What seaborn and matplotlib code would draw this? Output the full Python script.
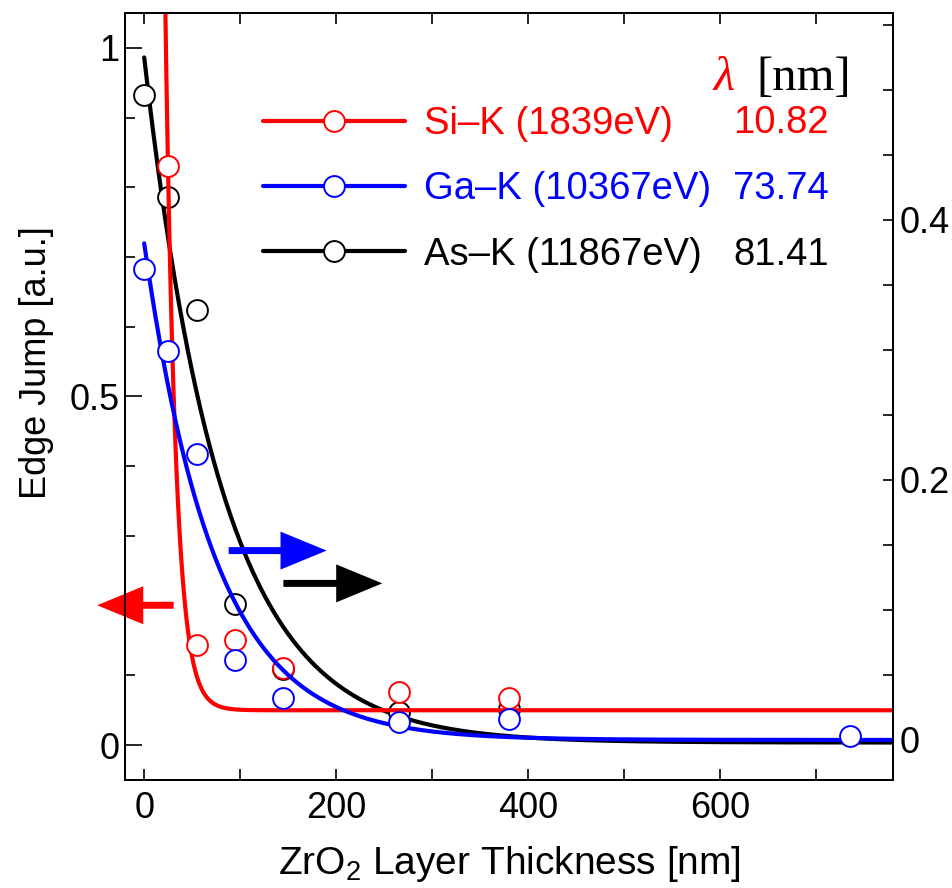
import numpy as np
import pandas as pd
import matplotlib
matplotlib.use("Agg")
import matplotlib.pyplot as plt
import seaborn as sns
from matplotlib.ticker import MultipleLocator, FixedLocator, FixedFormatter
from matplotlib.lines import Line2D

sns.set_theme(style="white")
plt.rcParams["font.family"] = ["Liberation Sans", "DejaVu Sans"]
plt.rcParams["mathtext.fontset"] = "custom"
plt.rcParams["mathtext.rm"] = "Liberation Sans"
plt.rcParams["mathtext.it"] = "Liberation Sans:italic"
plt.rcParams["axes.edgecolor"] = "black"
plt.rcParams["xtick.color"] = "black"
plt.rcParams["ytick.color"] = "black"
plt.rcParams["text.color"] = "black"
plt.rcParams["axes.labelcolor"] = "black"

# ---------------- data ----------------
thickness = [0, 25, 55, 95, 145, 265, 380, 735]
si_jump = [np.nan, 0.831, 0.143, 0.151, 0.111, 0.076, 0.067, np.nan]      # left axis
ga_jump = [0.362, 0.299, 0.220, 0.0615, 0.0326, 0.0141, 0.0162, 0.003]    # right axis
as_jump = [0.496, 0.418, 0.331, 0.1044, 0.0546, 0.0215, 0.0236, np.nan]   # right axis

series_labels = ["Si\u2013K (1839eV)", "Ga\u2013K (10367eV)", "As\u2013K (11867eV)"]
series_colors = ["#ff0000", "#0000ff", "#000000"]
lambda_nm = [10.82, 73.74, 81.41]
lambda_text = ["10.82", "73.74", "81.41"]
fit_amp = [7.7, 0.382, 0.527]
fit_offset = [0.05, 0.0, -0.002]

x_ticks = [0, 200, 400, 600]
left_ticks = [0, 0.5, 1]
left_tick_labels = ["0", "0.5", "1"]
right_ticks = [0, 0.2, 0.4]
right_tick_labels = ["0", "0.2", "0.4"]

# arrows (in left-axis data units)
arrow_tail_x = [30.7, 88, 145]
arrow_tip_x = [-49, 190, 248]
arrow_y = [0.2006, 0.279, 0.232]

# ---------------- figure ----------------
W, H = 953, 888
fig = plt.figure(figsize=(W / 100, H / 100), dpi=100)
fig.patch.set_facecolor("white")
ax = fig.add_axes([125 / W, 1 - 780 / H, 768 / W, 767 / H])
ax_as = ax.twinx()
ax_ga = ax.twinx()
ax_as.set_zorder(1)
ax.set_zorder(2)
ax_ga.set_zorder(3)
for a in (ax, ax_as, ax_ga):
    a.patch.set_visible(False)
    for s in a.spines.values():
        s.set_linewidth(1.3)
        s.set_color("black")

xfit = np.linspace(0, 780, 1561)
fit_axes = [ax, ax_ga, ax_as]
data_series = [si_jump, ga_jump, as_jump]
for i in range(3):
    fdf = pd.DataFrame({"x": xfit,
                        "y": fit_amp[i] * np.exp(-xfit / lambda_nm[i]) + fit_offset[i]})
    sns.lineplot(data=fdf, x="x", y="y", ax=fit_axes[i], color=series_colors[i],
                 lw=3, estimator=None, zorder=2)
    pdf = pd.DataFrame({"x": thickness, "y": data_series[i]}).dropna()
    sns.scatterplot(data=pdf, x="x", y="y", ax=fit_axes[i], facecolor="white",
                    edgecolor=series_colors[i], s=225, linewidth=1.4, zorder=3,
                    clip_on=False)

# arrows
arrow_colors = ["#ff0000", "#0000ff", "#000000"]
for i in range(3):
    ax.arrow(arrow_tail_x[i], arrow_y[i], arrow_tip_x[i] - arrow_tail_x[i], 0,
             width=0.010, head_width=0.0545, head_length=48,
             length_includes_head=True, color=arrow_colors[i], lw=0,
             clip_on=False, zorder=4)

# limits
ax.set_xlim(-20, 780)
ax.set_ylim(-0.05, 1.05)
for a in (ax_as, ax_ga):
    a.set_ylim(-0.0308, 0.5592)

# ticks
ax.xaxis.set_major_locator(FixedLocator(x_ticks))
ax.xaxis.set_minor_locator(MultipleLocator(100))
ax.tick_params(axis="x", which="both", direction="in", top=True, bottom=True,
               length=8, width=1.2, labelsize=26, pad=8)
ax.yaxis.set_major_locator(FixedLocator(left_ticks))
ax.yaxis.set_major_formatter(FixedFormatter(left_tick_labels))
ax.yaxis.set_minor_locator(MultipleLocator(0.1))
ax.tick_params(axis="y", which="major", direction="in", left=True, right=False,
               length=12, width=1.2, labelsize=26, pad=4)
ax.tick_params(axis="y", which="minor", direction="in", left=True, right=False,
               length=7, width=1.2)

ax_as.set_yticks([])
ax_as.tick_params(axis="y", which="both", right=False, labelright=False)
ax_as.set_ylabel("")
ax_ga.yaxis.set_major_locator(FixedLocator(right_ticks))
ax_ga.yaxis.set_major_formatter(FixedFormatter(right_tick_labels))
ax_ga.yaxis.set_minor_locator(MultipleLocator(0.05))
ax_ga.tick_params(axis="y", which="both", direction="in", right=True, left=False,
                  length=7, width=1.2, labelsize=26, pad=5)
ax_ga.set_ylabel("")

ax.set_xlabel("ZrO$_2$ Layer Thickness [nm]", fontsize=28)
ax.xaxis.set_label_coords(0.5, (780 - 844) / 767)
ax.set_ylabel("Edge Jump [a.u.]", fontsize=26)
ax.yaxis.set_label_coords(-0.092, (780 - 363) / 767)

# legend
handles = [Line2D([], [], color=c, lw=3, marker="o", ms=15, mfc="white", mec=c, mew=1.4)
           for c in series_colors]
leg = ax_ga.legend(handles, series_labels, loc="upper left",
                   bbox_to_anchor=(263 / W, 1 - 106 / H), bbox_transform=fig.transFigure,
                   frameon=False, fontsize=27.5, handlelength=3.72, handletextpad=0.5,
                   labelspacing=0.77, borderpad=0, borderaxespad=0, labelcolor="linecolor")

# lambda column
lam_baselines = [133, 199, 265]
for i in range(3):
    fig.text(829 / W, 1 - lam_baselines[i] / H, lambda_text[i], ha="right", va="baseline",
             color=series_colors[i], fontsize=27.5)
fig.text(713 / W, 1 - 90 / H, "\u03bb", ha="left", va="baseline", color="#ff0000",
         fontsize=35, style="italic", family=["Liberation Serif", "DejaVu Serif"])
fig.text(851 / W, 1 - 90 / H, "[nm]", ha="right", va="baseline", color="black",
         fontsize=35, family=["Liberation Serif", "DejaVu Serif"])

fig.savefig("out.png", dpi=100, facecolor="white")
